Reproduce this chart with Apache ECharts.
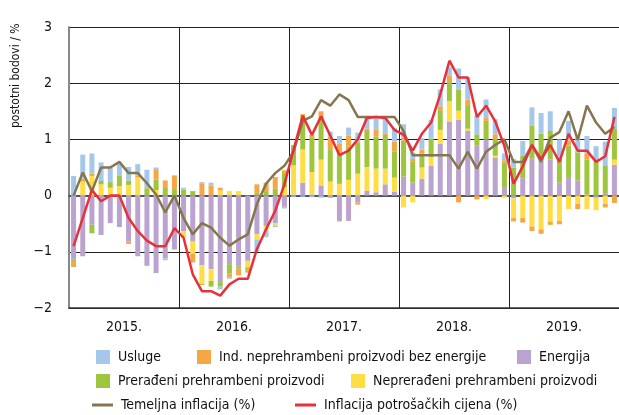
<!DOCTYPE html>
<html lang="hr">
<head>
<meta charset="UTF-8">
<script src="https://cdn.jsdelivr.net/npm/echarts@6/dist/echarts.min.js"></script>
<title>Doprinosi inflaciji</title>
<style>
    html, body { margin: 0; padding: 0; background: #fff; }
    #chart { width: 619px; height: 415px; }
</style>
</head>
<body>
<div id="chart"></div>
<script>
    const years = ['2015.', '2016.', '2017.', '2018.', '2019.'];
    const yTicks = [-2, -1, 0, 1, 2, 3];

    // doprinosi, postotni bodovi (mjesečno 2015.-2019.)
    const usluge = [
        0.35, 0.43, 0.36, 0.33, 0.26, 0.22, 0.24, 0.2, 0.31, 0.03, -0.03, 0,
        0.03, 0, 0.02, 0.05, -0.05, -0.03, 0, 0, -0.22, -0.12, -0.03, -0.03,
        -0.02, -0.02, -0.03, -0.04, 0.09, 0.14, 0.14, 0.17, 0.22, 0.2, 0.28, 0.24,
        0.24, 0.12, 0.2, 0.34, 0.3, 0.14, 0.37, 0.4, 0.33, 0.33, 0.27, 0.12,
        0.15, 0.26, 0.32, 0.37, 0.35, 0.32, 0.35, 0.27, 0.32, 0.28, 0.42, 0.37
    ];
    const industrijski = [
        -0.09, 0.05, 0.04, 0, 0, 0, -0.04, 0.03, 0.02, 0.18, 0.12, 0.26,
        0, -0.16, 0.22, 0.18, 0.05, -0.07, -0.12, -0.06, 0.15, 0.15, 0.21, 0.05,
        0, 0.06, 0.04, 0.14, 0.24, 0.2, 0.2, -0.04, 0.04, 0.12, 0.03, 0.18,
        0.05, 0.05, 0.07, 0, 0.07, 0.12, -0.12, 0.1, -0.07, 0.05, 0.1, 0.04,
        -0.06, -0.08, -0.08, -0.08, -0.06, -0.06, 0.09, -0.09, 0.1, 0, -0.06, -0.13
    ];
    const energija = [
        -1.14, -1.08, -0.52, -0.7, -0.49, -0.56, -0.82, -1.08, -1.25, -1.38, -1.12, -0.95,
        -0.63, -0.82, -1.24, -1.31, -1.54, -1.22, -1.26, -1.16, -0.69, -0.54, -0.49, -0.2,
        0.02, 0.23, 0.02, 0.18, -0.04, -0.46, -0.45, -0.12, 0.09, 0.06, 0.2, 0.07,
        0.34, 0.23, 0.3, 0.53, 0.92, 1.32, 1.35, 1.15, 0.89, 1.0, 0.68, 0.15,
        -0.05, 0.31, 0.66, 0.63, 0.64, 0.23, 0.33, 0.27, 0.02, -0.04, 0.03, 0.55
    ];
    const preradjeni = [
        -0.04, 0, -0.15, 0.06, 0.1, 0.18, 0.08, 0, 0.13, 0.19, 0.15, 0.1,
        0.11, 0.08, -0.02, -0.1, -0.08, -0.16, -0.04, -0.03, 0.05, 0.08, 0.12, 0.25,
        0.36, 0.57, 0.62, 0.72, 0.56, 0.51, 0.59, 0.56, 0.64, 0.57, 0.6, 0.46,
        0.64, 0.37, 0.25, 0.32, 0.35, 0.34, 0.38, 0.42, 0.2, 0.33, 0.28, 0.44,
        0.5, 0.4, 0.59, 0.47, 0.51, 0.45, 0.56, 0.5, 0.62, 0.6, 0.51, 0.55
    ];
    const neprerađeni = [
        0, 0.25, 0.35, 0.2, 0.14, 0.17, 0.19, 0.33, 0, 0.1, 0, -0.02,
        -0.12, -0.21, -0.33, -0.21, 0.09, 0.08, 0.08, -0.12, -0.09, -0.08, -0.04, 0.15,
        0.52, 0.59, 0.4, 0.46, 0.25, 0.21, 0.28, 0.39, 0.42, 0.42, 0.28, 0.25,
        -0.21, -0.12, 0.2, 0.16, 0.25, 0.36, 0.16, 0.04, 0, -0.06, 0.03, -0.04,
        -0.35, -0.4, -0.55, -0.6, -0.46, -0.45, -0.24, -0.15, -0.24, -0.22, -0.15, 0.09
    ];
    // godišnje stope, %
    const temeljna = [
        0, 0.41, 0.08, 0.5, 0.5, 0.6, 0.4, 0.4, 0.22, 0.02, -0.3, 0,
        -0.4, -0.69, -0.49, -0.57, -0.75, -0.89, -0.78, -0.69, -0.15, 0.21, 0.4, 0.53,
        0.78, 1.33, 1.41, 1.7, 1.6, 1.8, 1.7, 1.4, 1.4, 1.4, 1.4, 1.4,
        1.15, 0.72, 0.72, 0.72, 0.72, 0.72, 0.48, 0.78, 0.48, 0.78, 0.9, 1.0,
        0.6, 0.6, 0.9, 0.6, 1.03, 1.13, 1.5, 0.99, 1.6, 1.3, 1.1, 1.22
    ];
    const ukupna = [
        -0.9, -0.4, 0.1, -0.1, 0, 0, -0.4, -0.63, -0.8, -0.9, -0.9, -0.58,
        -0.75, -1.4, -1.7, -1.7, -1.78, -1.58, -1.48, -1.48, -0.95, -0.6, -0.27, 0.2,
        0.82, 1.42, 1.08, 1.41, 1.07, 0.72, 0.8, 1.0, 1.38, 1.4, 1.38, 1.17,
        1.08, 0.8, 1.1, 1.3, 1.8, 2.4, 2.1, 2.1, 1.4, 1.6, 1.32, 0.88,
        0.21, 0.52, 0.9, 0.65, 0.9, 0.6, 1.1, 0.8, 0.8, 0.6, 0.7, 1.4
    ];

    let months = [];
    years.forEach(y => {
        for (let m = 1; m <= 12; m++) months.push(m + '/' + y);
    });

    const FONT = "'Liberation Sans Narrow', 'DejaVu Sans Condensed', 'Arial Narrow', sans-serif";
    const names = {
        u: 'Usluge',
        i: 'Ind. neprehrambeni proizvodi bez energije',
        e: 'Energija',
        p: 'Prerađeni prehrambeni proizvodi',
        n: 'Neprerađeni prehrambeni proizvodi',
        t: 'Temeljna inflacija (%)',
        c: 'Inflacija potrošačkih cijena (%)'
    };

    function legendItem(name, left, top, isLine) {
        return {
            left: left,
            top: top,
            data: [name],
            icon: 'rect',
            itemWidth: isLine ? 21 : 14,
            itemHeight: isLine ? 3 : 14,
            selectedMode: false,
            padding: 0,
            textStyle: {
                fontFamily: FONT,
                fontSize: 14,
                color: '#111',
                padding: [0, 0, 0, 3]
            }
        };
    }

    function barSeries(name, data, color) {
        return {
            name: name,
            type: 'bar',
            stack: 'doprinos',
            barWidth: 5,
            xAxisIndex: 0,
            itemStyle: { color: color },
            data: data
        };
    }

    let chart = echarts.init(document.getElementById('chart'));
    chart.setOption({
        animation: false,
        grid: { left: 69, top: 27, width: 552, height: 281 },
        graphic: [{
            type: 'text',
            x: 10,
            y: 128,
            rotation: Math.PI / 2,
            style: {
                text: 'postotni bodovi / %',
                fontFamily: FONT,
                fontSize: 12,
                fill: '#111'
            }
        }],
        legend: [
            legendItem(names.u, 96, 350, false),
            legendItem(names.i, 197, 350, false),
            legendItem(names.e, 517, 350, false),
            legendItem(names.p, 96, 374, false),
            legendItem(names.n, 351, 374, false),
            legendItem(names.t, 92, 398, true),
            legendItem(names.c, 295, 398, true)
        ],
        xAxis: [{
            type: 'category',
            data: months,
            axisLine: { onZero: true, lineStyle: { color: '#555', width: 2 } },
            axisTick: { show: false },
            axisLabel: { show: false },
            splitLine: { show: false }
        }, {
            type: 'category',
            data: years,
            position: 'bottom',
            axisLine: { onZero: false, lineStyle: { color: '#333', width: 1.5 } },
            axisTick: { show: false },
            axisLabel: {
                fontFamily: FONT,
                fontSize: 14,
                color: '#111',
                margin: 12
            },
            splitLine: { show: true, lineStyle: { color: '#222', width: 1 } }
        }],
        yAxis: {
            type: 'value',
            min: yTicks[0],
            max: yTicks[yTicks.length - 1],
            interval: 1,
            axisLine: { show: true, lineStyle: { color: '#888', width: 2 } },
            axisTick: { show: false },
            axisLabel: {
                fontFamily: FONT,
                fontSize: 14,
                color: '#111',
                margin: 17,
                formatter: v => String(v).replace('-', '\u2212')
            },
            splitLine: { lineStyle: { color: '#222', width: 1 } }
        },
        series: [
            barSeries(names.e, energija, '#BBA3CF'),
            barSeries(names.n, neprerađeni, '#FFDE45'),
            barSeries(names.p, preradjeni, '#9DC53D'),
            barSeries(names.i, industrijski, '#F5A645'),
            barSeries(names.u, usluge, '#A5C8EA'),
            {
                name: names.t,
                type: 'line',
                xAxisIndex: 0,
                symbol: 'none',
                lineStyle: { color: '#857650', width: 2.5 },
                itemStyle: { color: '#857650' },
                data: temeljna
            },
            {
                name: names.c,
                type: 'line',
                xAxisIndex: 0,
                symbol: 'none',
                lineStyle: { color: '#E8303A', width: 2.5 },
                itemStyle: { color: '#E8303A' },
                data: ukupna
            }
        ]
    });
</script>
</body>
</html>
